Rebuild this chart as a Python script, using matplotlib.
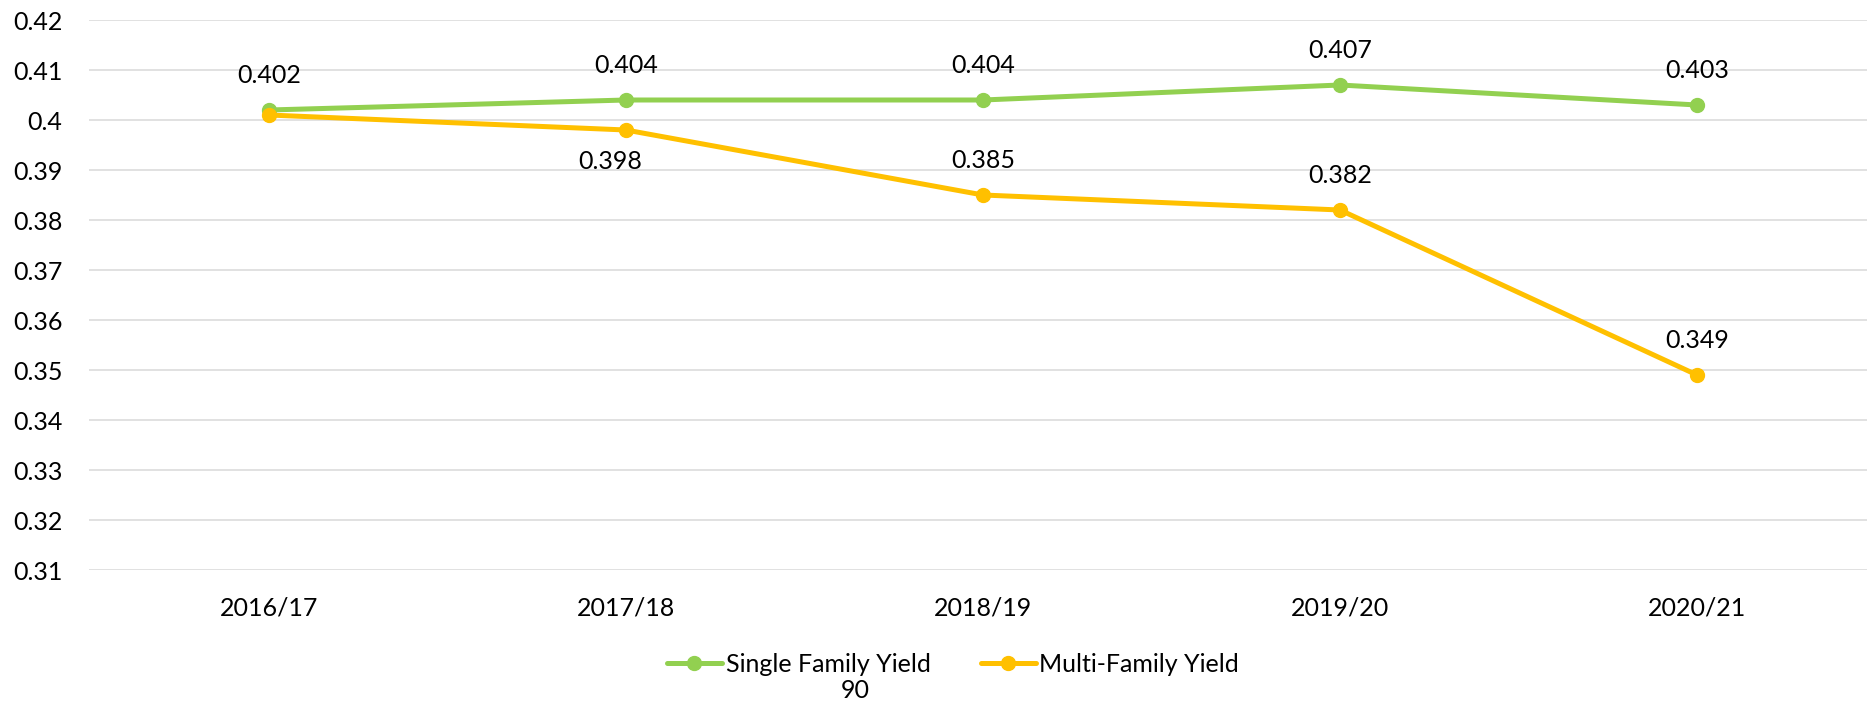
import matplotlib
matplotlib.use("Agg")
import matplotlib.pyplot as plt

# data
years = ["2016/17", "2017/18", "2018/19", "2019/20", "2020/21"]
single_family = [0.402, 0.404, 0.404, 0.407, 0.403]
multi_family = [0.401, 0.398, 0.385, 0.382, 0.349]
# which multi-family labels show (first one is hidden in the original)
multi_labels_shown = [False, True, True, True, True]
multi_label_below = [False, True, False, False, False]

plt.rcParams['font.family'] = ['Lato', 'DejaVu Sans']

green = '#92D050'
orange = '#FFC000'
fs = 18

fig = plt.figure(figsize=(18.67, 7.03), dpi=100)
ax = fig.add_axes([89 / 1867, 1 - 570 / 703, 1 - 89 / 1867, (570 - 20) / 703])

x = list(range(len(years)))
ax.plot(x, single_family, color=green, lw=3.6, marker='o', ms=10,
        label='Single Family Yield', zorder=3, solid_capstyle='round')
ax.plot(x, multi_family, color=orange, lw=3.6, marker='o', ms=10,
        label='Multi-Family Yield', zorder=3, solid_capstyle='round')

# data labels
for xi, v in zip(x, single_family):
    ax.annotate(f"{v:.3f}", (xi, v), xytext=(0, 24.5), textcoords='offset points',
                ha='center', va='center', fontsize=fs)
for xi, v, show, below in zip(x, multi_family, multi_labels_shown, multi_label_below):
    if not show:
        continue
    off = (-11.5, -23) if below else (0, 24.5)
    ax.annotate(f"{v:.3f}", (xi, v), xytext=off, textcoords='offset points',
                ha='center', va='center', fontsize=fs)

ax.set_ylim(0.31, 0.42)
ax.set_xlim(-0.504, 4.476)
ax.set_yticks([0.31 + i * 0.01 for i in range(12)])
ax.set_yticklabels([f"{0.31 + i * 0.01:.2f}".rstrip('0') if i != 9 else "0.4" for i in range(12)])
ax.set_xticks(x)
ax.set_xticklabels(years)
ax.tick_params(axis='both', length=0, labelsize=fs)
ax.tick_params(axis='y', pad=19)
ax.tick_params(axis='x', pad=19)
ax.grid(axis='y', color='#D9D9D9', lw=1.1)
ax.set_axisbelow(True)
for s in ax.spines.values():
    s.set_visible(False)

fig.legend(loc='center', bbox_to_anchor=(953 / 1867, 1 - 664 / 703), ncol=2,
           frameon=False, fontsize=fs, handlelength=2.2, handletextpad=0.15,
           columnspacing=2.0)
fig.text(855 / 1867, 1 - 691 / 703, "90", ha='center', va='center', fontsize=fs)

fig.savefig("out.png", dpi=100)
